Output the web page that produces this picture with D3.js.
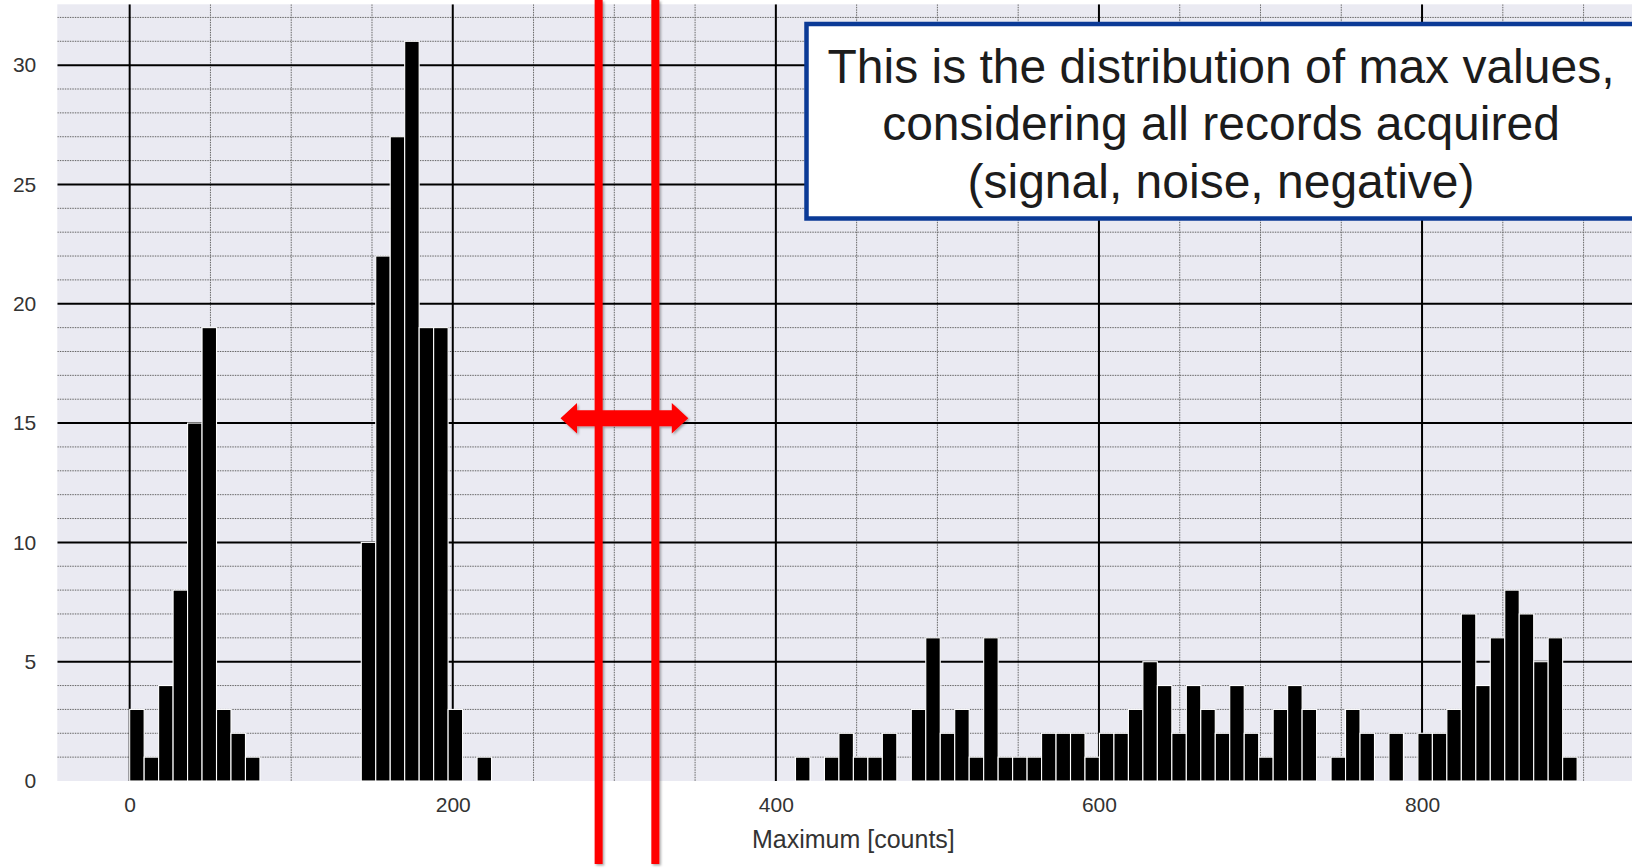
<!DOCTYPE html>
<html>
<head>
<meta charset="utf-8">
<script src="https://cdn.jsdelivr.net/npm/d3@7"></script>
<style>
  body { margin: 0; background: #fff; }
  svg { display: block; font-family: "Liberation Sans", Arial, sans-serif; }
</style>
</head>
<body>
<script>
// histogram of max values, 100 bins from 0 to 896 counts
var binStart = 0, binEnd = 896;
var counts = [
	3, 1, 4, 8, 15, 19, 3, 2, 1, 0,
	0, 0, 0, 0, 0, 0, 10, 22, 27, 31,
	19, 19, 3, 0, 1, 0, 0, 0, 0, 0,
	0, 0, 0, 0, 0, 0, 0, 0, 0, 0,
	0, 0, 0, 0, 0, 0, 1, 0, 1, 2,
	1, 1, 2, 0, 3, 6, 2, 3, 1, 6,
	1, 1, 1, 2, 2, 2, 1, 2, 2, 3,
	5, 4, 2, 4, 3, 2, 4, 2, 1, 3,
	4, 3, 0, 1, 3, 2, 0, 2, 0, 2,
	2, 3, 7, 4, 6, 8, 7, 5, 6, 1
];

// ticks
var xMajor = [0, 200, 400, 600, 800];
var xMinor = [50, 100, 150, 250, 300, 350, 450, 500, 550, 650, 700, 750, 850, 900];
var yMajor = [0, 5, 10, 15, 20, 25, 30];
var yMinor = [1, 2, 3, 4, 6, 7, 8, 9, 11, 12, 13, 14, 16, 17, 18, 19, 21, 22, 23, 24, 26, 27, 28, 29, 31, 32];
var xLabel = "Maximum [counts]";

// overlay: the two red markers (in counts) and the arrow between them
var redLines = [290.3, 325.4];
var arrowFrom = 266.7, arrowTo = 345.8, arrowY = 15.2;

// note box text
var noteLines = [
	"This is the distribution of max values,",
	"considering all records acquired",
	"(signal, noise, negative)"
];

var width = 1632, height = 868;
var plot = {left: 57.3, top: 4.3, bottom: 781, right: 1649.5};

var svg = d3.select("body")
	.append("svg")
	.attr("width", width)
	.attr("height", height);

var x = d3.scaleLinear()
	.domain([-44.8, 940.8])
	.range([plot.left, plot.right]);

var y = d3.scaleLinear()
	.domain([0, 32.55])
	.range([plot.bottom, plot.top]);

var defs = svg.append("defs");
defs.append("clipPath").attr("id", "clip")
	.append("rect")
	.attr("x", plot.left).attr("y", plot.top)
	.attr("width", plot.right - plot.left)
	.attr("height", plot.bottom - plot.top);

var shadow = defs.append("filter").attr("id", "shadow")
	.attr("x", "-20%").attr("y", "-20%").attr("width", "140%").attr("height", "140%");
shadow.append("feDropShadow")
	.attr("dx", 1.5).attr("dy", 1.5)
	.attr("stdDeviation", 1.2)
	.attr("flood-color", "#000")
	.attr("flood-opacity", 0.35);

// background
svg.append("rect")
	.attr("x", plot.left).attr("y", plot.top)
	.attr("width", plot.right - plot.left)
	.attr("height", plot.bottom - plot.top)
	.attr("fill", "#eaeaf2");

var g = svg.append("g").attr("clip-path", "url(#clip)");

// minor grid (dotted)
g.selectAll(".ymin").data(yMinor).enter().append("line")
	.attr("x1", plot.left).attr("x2", plot.right)
	.attr("y1", d => y(d)).attr("y2", d => y(d))
	.attr("stroke", "#666").attr("stroke-width", 1)
	.attr("stroke-dasharray", "1.5,1");

g.selectAll(".xmin").data(xMinor).enter().append("line")
	.attr("x1", d => x(d)).attr("x2", d => x(d))
	.attr("y1", plot.top).attr("y2", plot.bottom)
	.attr("stroke", "#666").attr("stroke-width", 1)
	.attr("stroke-dasharray", "1.5,1");

// major grid
g.selectAll(".ymaj").data(yMajor.slice(1)).enter().append("line")
	.attr("x1", plot.left).attr("x2", plot.right)
	.attr("y1", d => y(d)).attr("y2", d => y(d))
	.attr("stroke", "#000").attr("stroke-width", 2);

g.selectAll(".xmaj").data(xMajor).enter().append("line")
	.attr("x1", d => x(d)).attr("x2", d => x(d))
	.attr("y1", plot.top).attr("y2", plot.bottom)
	.attr("stroke", "#000").attr("stroke-width", 2);

// bars (empty bins skipped)
var binWidth = (binEnd - binStart) / counts.length;
var bins = counts.map((c, i) => ({x0: binStart + i * binWidth, x1: binStart + (i + 1) * binWidth, n: c}))
	.filter(b => b.n > 0);

g.selectAll(".bar").data(bins).enter().append("rect")
	.attr("class", "bar")
	.attr("x", b => x(b.x0))
	.attr("width", b => x(b.x1) - x(b.x0))
	.attr("y", b => y(b.n))
	.attr("height", b => y(0) - y(b.n))
	.attr("fill", "#000")
	.attr("stroke", "#fff")
	.attr("stroke-width", 1.1);

// axes (labels only)
var yAxis = svg.append("g")
	.attr("transform", "translate(" + (plot.left - 21) + ",0)")
	.call(d3.axisLeft(y).tickValues(yMajor).tickSize(0).tickPadding(0));
var xAxis = svg.append("g")
	.attr("transform", "translate(0," + (plot.bottom + 12) + ")")
	.call(d3.axisBottom(x).tickValues(xMajor).tickSize(0).tickPadding(0));

[yAxis, xAxis].forEach(function(a) {
	a.select(".domain").remove();
	a.selectAll("text")
		.attr("font-family", "Liberation Sans, Arial, sans-serif")
		.attr("font-size", 21)
		.attr("fill", "#333");
});
xAxis.selectAll("text").attr("dy", "0.9em");

svg.append("text")
	.attr("x", (plot.left + plot.right) / 2)
	.attr("y", 848)
	.attr("text-anchor", "middle")
	.attr("font-size", 25)
	.attr("fill", "#333")
	.text(xLabel);

// note box
svg.append("rect")
	.attr("x", 806.5).attr("y", 24)
	.attr("width", 830).attr("height", 194.5)
	.attr("fill", "#fff")
	.attr("stroke", "#0b3a96")
	.attr("stroke-width", 4.5);

svg.selectAll(".note").data(noteLines).enter().append("text")
	.attr("x", 1221)
	.attr("y", (d, i) => 83 + i * 57.3)
	.attr("text-anchor", "middle")
	.attr("font-size", 48)
	.attr("fill", "#1c1c1c")
	.text(d => d);

// red markers
var red = svg.append("g").attr("filter", "url(#shadow)");
red.selectAll(".marker").data(redLines).enter().append("rect")
	.attr("x", d => x(d) - 4)
	.attr("y", 0)
	.attr("width", 8)
	.attr("height", 864)
	.attr("fill", "#ff0000");

var ax0 = x(arrowFrom), ax1 = x(arrowTo), ay = y(arrowY);
var head = 16.5, hh = 15.3, sh = 8;
var arrow = [
	[ax0, ay], [ax0 + head, ay - hh], [ax0 + head, ay - sh], [ax1 - head, ay - sh],
	[ax1 - head, ay - hh], [ax1, ay], [ax1 - head, ay + hh], [ax1 - head, ay + sh],
	[ax0 + head, ay + sh], [ax0 + head, ay + hh]
];
red.append("path")
	.attr("d", d3.line()(arrow) + "Z")
	.attr("fill", "#ff0000");
</script>
</body>
</html>
